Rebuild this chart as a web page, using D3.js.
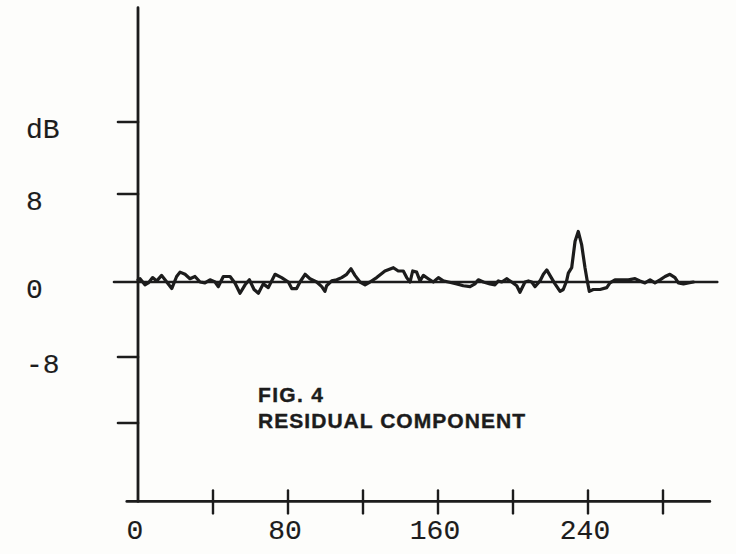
<!DOCTYPE html>
<html>
<head>
<meta charset="utf-8">
<script src="https://cdn.jsdelivr.net/npm/d3@7/dist/d3.min.js"></script>
<style>
  html, body { margin: 0; padding: 0; background: #fdfdfb; }
  svg { display: block; }
</style>
</head>
<body>
<svg id="chart" width="736" height="554"></svg>
<script>
// Residual component trace: horizontal position and level in dB
const sampleIndex = [
  0, 1.1, 3.7, 5.5, 7.8, 10.0, 12.6, 14.4, 18.0, 20.6,
  22.4, 25.1, 27.7, 30.4, 33.1, 35.7, 38.4, 41.1, 42.8, 45.5,
  49.1, 51.7, 54.4, 57.1, 59.4, 61.9, 64.2, 66.8, 69.5,
  73.1, 76.6, 80.2, 82.0, 84.6, 86.4, 89.1, 91.7, 95.3, 98.0,
  99.7, 100.6, 103.3, 106.0, 108.6, 111.3, 113.6, 115.7, 118.4, 121.1,
  123.7, 127.3, 131.7, 136.2, 138.8, 141.5, 143.3, 145.1, 146.5, 148.6, 150.4,
  152.2, 154.8, 157.5, 160.2, 162.8, 165.5, 170.0, 173.5, 177.1, 179.7,
  181.5, 184.2, 187.7, 190.4, 192.2, 194.0, 196.6, 199.3, 202.0, 203.7,
  206.4, 208.2, 210.0, 211.7, 214.4, 216.2, 218.0, 219.7, 222.4,
  225.1, 226.8, 228.6, 229.5, 231.3, 233.1, 234.8, 236.6, 238.4, 239.6,
  240.7, 242.8, 246.4, 250.0, 251.7, 254.4, 258.0, 261.5, 265.1, 267.7,
  270.4, 273.1, 275.7, 278.4, 281.1, 283.7, 286.4, 288.2, 290.9, 293.5, 296.2
];
const residualDb = [
  0.2, 0.3, -0.3, -0.1, 0.4, 0.1, 0.6, 0.2, -0.7, 0.5,
  0.9, 0.7, 0.3, 0.5, 0.0, -0.1, 0.2, 0.0, -0.5, 0.5,
  0.5, -0.1, -1.2, -0.3, 0.2, -0.8, -1.2, -0.2, -0.6,
  0.7, 0.4, 0, -0.7, -0.7, 0, 0.7, 0.3, 0, -0.5,
  -1.0, -0.4, 0.1, 0.2, 0.4, 0.7, 1.2, 0.6, 0, -0.3,
  0, 0.4, 1.0, 1.3, 1.0, 1.0, 0.4, 0, 1.0, 0.9, 0.1,
  0.6, 0.3, 0, 0.4, 0.1, 0, -0.2, -0.4, -0.5, -0.2,
  0.2, 0, -0.2, -0.3, 0.1, 0, 0.3, 0, -0.4, -1.1,
  0, 0.1, 0, -0.5, 0.1, 0.7, 1.1, 0.6, -0.2,
  -1.0, -0.8, 0.1, 0.8, 1.3, 3.7, 4.6, 3.4, 1.3, 0.1,
  -1.0, -0.8, -0.8, -0.6, -0.1, 0.2, 0.2, 0.2, 0.3, 0.1,
  -0.1, 0.2, -0.1, 0.2, 0.5, 0.7, 0.4, -0.1, -0.2, -0.1, 0
];

// Axis ticks and labels
const xTicks = [40, 80, 120, 160, 200, 240, 280];
const xLabels = [0, 80, 160, 240];
const yTicks = [16, 8, 0, -8, -16];
const yLabels = [["dB", 16], ["8", 8], ["0", 0], ["-8", -8]];
const xAxisExtent = [-6, 305];
const yAxisExtent = [-25.5, 28.7];
const zeroLineExtent = [-13, 309];
const titleLines = ["FIG. 4", "RESIDUAL COMPONENT"];

const ink = "#1c1c1c";
const svg = d3.select("#chart");

// Scales (the dB scale follows the spacing of the drawn tick marks)
const x = d3.scaleLinear().domain([0, 280]).range([138, 663]);
const y = d3.scaleLinear().domain([-16, -8, 0, 8, 16]).range([423, 357, 282, 194, 122]);

const g = svg.append("g")
  .attr("stroke", ink)
  .attr("stroke-linecap", "round")
  .attr("fill", "none");

// Vertical axis
g.append("line")
  .attr("x1", x(0)).attr("x2", x(0))
  .attr("y1", y(yAxisExtent[1])).attr("y2", y(yAxisExtent[0]))
  .attr("stroke-width", 2.8);

// Horizontal axis
g.append("line")
  .attr("x1", x(xAxisExtent[0])).attr("x2", x(xAxisExtent[1]))
  .attr("y1", y(yAxisExtent[0])).attr("y2", y(yAxisExtent[0]))
  .attr("stroke-width", 2.6);

// Vertical axis ticks (pointing left)
g.selectAll(".ytick").data(yTicks).join("line")
  .attr("class", "ytick")
  .attr("x1", d => x(0) - (d === 0 ? 24 : 20)).attr("x2", x(0))
  .attr("y1", d => y(d)).attr("y2", d => y(d))
  .attr("stroke-width", 2.6);

// Horizontal axis ticks (crossing the axis)
g.selectAll(".xtick").data(xTicks).join("line")
  .attr("class", "xtick")
  .attr("x1", d => x(d)).attr("x2", d => x(d))
  .attr("y1", y(yAxisExtent[0]) - 11).attr("y2", y(yAxisExtent[0]) + 12)
  .attr("stroke-width", 2.4);

// Zero reference line
g.append("line")
  .attr("x1", x(0)).attr("x2", x(zeroLineExtent[1]))
  .attr("y1", y(0)).attr("y2", y(0))
  .attr("stroke-width", 2.4);

// Residual trace
const line = d3.line()
  .x((d, i) => x(sampleIndex[i]))
  .y(d => y(d));
g.append("path")
  .datum(residualDb)
  .attr("d", line)
  .attr("stroke-width", 3.2)
  .attr("stroke-linejoin", "round");

// Tick labels
const labelFont = "'Liberation Mono', 'DejaVu Sans Mono', monospace";
svg.selectAll(".xlabel").data(xLabels).join("text")
  .attr("class", "xlabel")
  .attr("x", d => x(d) - 3)
  .attr("y", y(yAxisExtent[0]) + 38)
  .attr("text-anchor", "middle")
  .attr("font-family", labelFont)
  .attr("font-size", 28)
  .attr("fill", ink)
  .attr("stroke", ink)
  .attr("stroke-width", 0.15)
  .text(d => d);

svg.selectAll(".ylabel").data(yLabels).join("text")
  .attr("class", "ylabel")
  .attr("x", 26)
  .attr("y", d => y(d[1]) + 16)
  .attr("text-anchor", "start")
  .attr("font-family", labelFont)
  .attr("font-size", 28)
  .attr("fill", ink)
  .attr("stroke", ink)
  .attr("stroke-width", 0.15)
  .text(d => d[0]);

// Figure caption
const caption = svg.append("g")
  .attr("font-family", "'Liberation Sans', Arial, sans-serif")
  .attr("font-weight", "bold")
  .attr("font-size", 21)
  .attr("fill", ink)
  .attr("stroke", ink)
  .attr("stroke-width", 0.4);
caption.append("text")
  .attr("x", 258).attr("y", 402)
  .attr("textLength", 65).attr("lengthAdjust", "spacing")
  .text(titleLines[0]);
caption.append("text")
  .attr("x", 258).attr("y", 428)
  .attr("textLength", 267).attr("lengthAdjust", "spacing")
  .text(titleLines[1]);
</script>
</body>
</html>
